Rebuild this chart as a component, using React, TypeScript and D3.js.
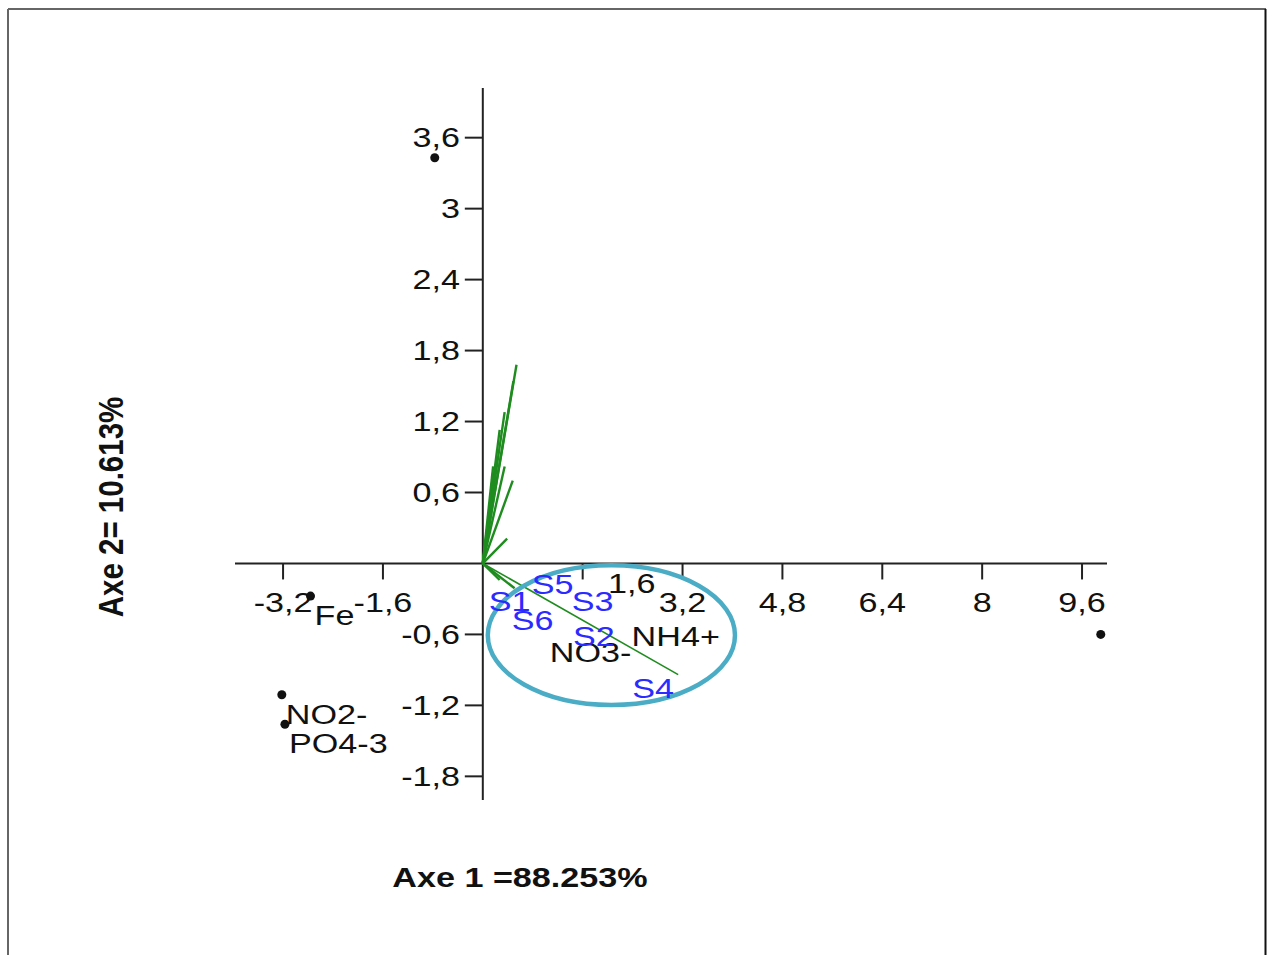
import React from "react";
import * as d3 from "d3";

// ---- data ----
const xTicks = [-3.2, -1.6, 1.6, 3.2, 4.8, 6.4, 8, 9.6];
const yTicks = [-1.8, -1.2, -0.6, 0.6, 1.2, 1.8, 2.4, 3, 3.6];

// black points (variables) with labels
const pointNames = ["", "Fe", "NO2-", "PO4-3", ""];
const pointX = [-0.77, -2.76, -3.22, -3.17, 9.9];
const pointY = [3.43, -0.276, -1.11, -1.36, -0.6];

// labels with no visible dot
const hiddenNames = ["NH4+", "NO3-"];
const hiddenX = [2.32, 1.01];
const hiddenY = [-0.45, -0.59];

// sample labels (blue)
const sampleNames = ["S1", "S5", "S3", "S6", "S2", "S4"];
const sampleX = [0.03, 0.72, 1.36, 0.40, 1.38, 2.33];
const sampleY = [-0.16, -0.01, -0.16, -0.32, -0.45, -0.89];

// loading vectors (green)
const vecX = [0.54, 0.49, 0.35, 0.27, 0.165, 0.22, 0.35, 0.48, 0.39, 3.13, 0.51, 0.27];
const vecY = [1.68, 1.54, 1.28, 1.13, 0.82, 0.87, 0.82, 0.70, 0.21, -0.94, -0.21, -0.14];

// highlighted cluster ellipse (data units)
const ellipseCenter = [2.06, -0.606];
const ellipseRadii = [1.98, 0.59];

const fmt = (v: number) => String(v).replace(".", ",");

const SX = 1.22;

function T(props: {
  x: number; y: number; anchor?: string; size?: number; weight?: string;
  fill?: string; rotate?: boolean; children: React.ReactNode;
}) {
  const { x, y, anchor = "start", size = 28, weight = "normal", fill = "#111", rotate, children } = props;
  return (
    <text
      transform={`translate(${x},${y}) scale(${SX},1)${rotate ? " rotate(-90)" : ""}`}
      textAnchor={anchor}
      fontSize={size}
      fontWeight={weight}
      fill={fill}
      fontFamily="'Liberation Sans', Arial, sans-serif"
    >
      {children}
    </text>
  );
}

export default function App() {
  const x = d3.scaleLinear().domain([-3.97, 10]).range([235, 1107]);
  const y = d3.scaleLinear().domain([-2.0, 4.02]).range([800, 88]);
  const x0 = x(0);
  const y0 = y(0);

  const labelAdjust: Record<string, [number, number]> = { "1.6": [49, -19] };

  return (
    <svg
      width={1268}
      height={955}
      style={{ position: "absolute", left: 0, top: 0, background: "#fff" }}
    >
      {/* frame */}
      <line x1={8} y1={9} x2={1266} y2={9} stroke="#666" strokeWidth={2} />
      <line x1={8} y1={9} x2={8} y2={955} stroke="#666" strokeWidth={2} />
      <line x1={1265.5} y1={9} x2={1265.5} y2={955} stroke="#111" strokeWidth={2} />

      {/* axes */}
      <line x1={x.range()[0]} y1={y0} x2={x.range()[1]} y2={y0} stroke="#222" strokeWidth={2} />
      <line x1={x0} y1={y.range()[1]} x2={x0} y2={y.range()[0]} stroke="#222" strokeWidth={2} />

      {xTicks.map((t) => {
        const adj = labelAdjust[String(t)] || [0, 0];
        return (
          <g key={"xt" + t}>
            <line x1={x(t)} y1={y0} x2={x(t)} y2={y0 + 16} stroke="#222" strokeWidth={2} />
            <T x={x(t) + adj[0]} y={612 + adj[1]} anchor="middle">{fmt(t)}</T>
          </g>
        );
      })}
      {yTicks.map((t) => (
        <g key={"yt" + t}>
          <line x1={x0 - 18} y1={y(t)} x2={x0} y2={y(t)} stroke="#222" strokeWidth={2} />
          <T x={460} y={y(t) + 9.5} anchor="end">{fmt(t)}</T>
        </g>
      ))}

      {/* vectors */}
      {vecX.map((vx, i) => (
        <line
          key={"v" + i}
          x1={x0}
          y1={y0}
          x2={x(vx)}
          y2={y(vecY[i])}
          stroke="#1f8c1f"
          strokeWidth={i === 9 ? 1.6 : 2.4}
        />
      ))}

      {/* ellipse */}
      <ellipse
        cx={x(ellipseCenter[0])}
        cy={y(ellipseCenter[1])}
        rx={x(ellipseRadii[0]) - x(0)}
        ry={y(0) - y(ellipseRadii[1])}
        fill="none"
        stroke="#4BACC6"
        strokeWidth={4.5}
      />

      {/* points */}
      {pointX.map((px, i) => (
        <g key={"p" + i}>
          <circle cx={x(px)} cy={y(pointY[i])} r={4.5} fill="#111" />
          {pointNames[i] && (
            <T x={x(px) + 4} y={y(pointY[i]) + 29}>{pointNames[i]}</T>
          )}
        </g>
      ))}
      {hiddenNames.map((n, i) => (
        <T key={"h" + i} x={x(hiddenX[i]) + 4} y={y(hiddenY[i]) + 29}>{n}</T>
      ))}
      {sampleNames.map((n, i) => (
        <T key={"s" + i} x={x(sampleX[i]) + 4} y={y(sampleY[i]) + 29} fill="#2b2bff">{n}</T>
      ))}

      {/* axis titles */}
      <T x={520} y={887} anchor="middle" weight="bold">Axe 1 =88.253%</T>
      <T x={123} y={507} anchor="middle" weight="bold" size={29.5} rotate>Axe 2= 10.613%</T>
    </svg>
  );
}
